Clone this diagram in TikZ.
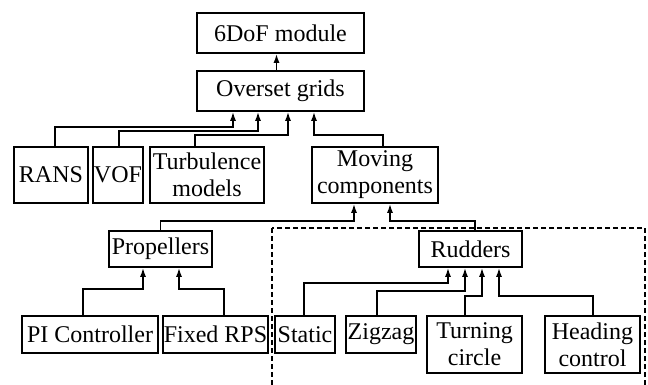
\documentclass[tikz,border=0pt]{standalone}
\usepackage{fontspec}
\setmainfont{Liberation Serif}
\usetikzlibrary{arrows.meta}

\tikzset{
	box/.style={draw, line width=1.6pt, inner sep=0pt, align=center, font=\fontsize{24}{27}\selectfont},
	link/.style={line width=1.6pt, -{Latex[length=9pt,width=6pt]}}
}

\begin{document}
\begin{tikzpicture}[x=1pt, y=-1pt]
	\useasboundingbox (0,0) rectangle (648,384);
	% boxes, top to bottom
	\node [box, minimum width=167pt, minimum height=40pt] (sixdof) at (280.5,33) {6DoF module};
	\node [box, minimum width=167pt, minimum height=40pt] (overset) at (280.5,91) {Overset grids};
	\node [box, minimum width=74pt, minimum height=56pt] (rans) at (51,175) {RANS};
	\node [box, minimum width=50pt, minimum height=56pt] (vof) at (118,175) {VOF};
	\node [box, minimum width=114pt, minimum height=56pt] (turb) at (207,175) {Turbulence\\models};
	\node [box, minimum width=126pt, minimum height=56pt] (moving) at (375,175) {Moving\\components};
	\node [box, minimum width=103pt, minimum height=36pt] (prop) at (160.5,249) {Propellers};
	\node [box, minimum width=103pt, minimum height=36pt] (rudders) at (470.5,249) {Rudders};
	\node [box, minimum width=136pt, minimum height=37pt] (pi) at (90,334.5) {PI Controller};
	\node [box, minimum width=105pt, minimum height=37pt] (fixed) at (215.5,334.5) {Fixed RPS};
	\node [box, minimum width=60pt, minimum height=37pt] (static) at (305,334.5) {Static};
	\node [box, minimum width=70pt, minimum height=37pt] (zigzag) at (381,334.5) {Zigzag};
	\node [box, minimum width=95pt, minimum height=57pt] (turning) at (474.5,344.5) {Turning\\circle};
	\node [box, minimum width=95pt, minimum height=57pt] (heading) at (592.5,344.5) {Heading\\control};
	% rudder manoeuvres
	\draw [line width=1.5pt, dash pattern=on 5pt off 3pt] (272,228) rectangle (645,392);
	% connectors
	\draw [link] ([xshift=-4pt]overset.north) -- ([xshift=-4pt]sixdof.south);
	\draw [link] ([xshift=4pt]rans.north) -- ++(0,-19) -| ([xshift=-47.5pt]overset.south);
	\draw [link] ([xshift=1pt]vof.north) -- ++(0,-15) -| ([xshift=-22.5pt]overset.south);
	\draw [link] ([xshift=-12pt]turb.north) -- ++(0,-11) -| ([xshift=7.5pt]overset.south);
	\draw [link] ([xshift=8pt]moving.north) -- ++(0,-11) -| ([xshift=33.5pt]overset.south);
	\draw [link] (prop.north) -- ++(0,-9) -| ([xshift=-21pt]moving.south);
	\draw [link] ([xshift=4.5pt]rudders.north) -- ++(0,-9) -| ([xshift=15pt]moving.south);
	\draw [link] ([xshift=-7pt]pi.north) -- ++(0,-26) -| ([xshift=-17.5pt]prop.south);
	\draw [link] ([xshift=8.5pt]fixed.north) -- ++(0,-26) -| ([xshift=18.5pt]prop.south);
	\draw [link] ([xshift=-1pt]static.north) -- ++(0,-32) -| ([xshift=-22.5pt]rudders.south);
	\draw [link] ([xshift=-4pt]zigzag.north) -- ++(0,-24) -| ([xshift=-5.5pt]rudders.south);
	\draw [link] ([xshift=-9.5pt]turning.north) -- ++(0,-19) -| ([xshift=11.5pt]rudders.south);
	\draw [link] ([xshift=0.5pt]heading.north) -- ++(0,-19) -| ([xshift=28.5pt]rudders.south);
\end{tikzpicture}
\end{document}
